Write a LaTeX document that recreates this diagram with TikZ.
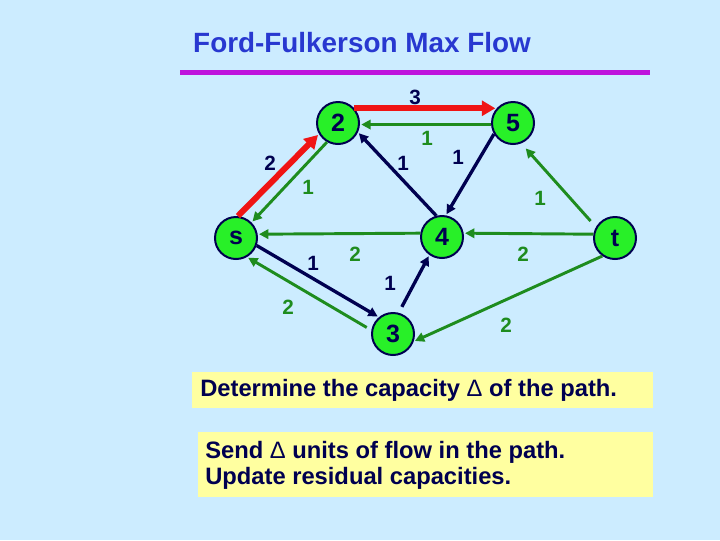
\documentclass[tikz,border=0pt]{standalone}
\usepackage{fontspec}
\setmainfont{Liberation Sans}
\usetikzlibrary{arrows.meta}
\definecolor{bg}{RGB}{204,236,255}
\definecolor{titleblue}{RGB}{40,56,208}
\definecolor{rulemag}{RGB}{190,20,220}
\definecolor{nodegreen}{RGB}{40,240,40}
\definecolor{navy}{RGB}{0,0,80}
\definecolor{egreen}{RGB}{30,140,30}
\definecolor{ered}{RGB}{240,20,20}
\definecolor{boxyellow}{RGB}{255,255,160}
\tikzset{
  vert/.style={circle, fill=nodegreen, draw=navy, line width=1.5pt, minimum size=31.5pt, inner sep=0pt,
    font=\fontsize{18.75}{20}\selectfont\bfseries, text=navy},
  redarc/.style={draw=ered, line width=4.5pt, -{Triangle[length=10pt,width=11pt]}, shorten >=1pt},
  greenarc/.style={draw=egreen, line width=2.2pt, -{Triangle[length=7pt,width=7pt]}, shorten >=1pt},
  navyarc/.style={draw=navy, line width=2.5pt, -{Triangle[length=7pt,width=7pt]}, shorten >=1pt},
  glab/.style={font=\fontsize{15.5}{16}\selectfont\bfseries, text=egreen, inner sep=0pt},
  nlab/.style={font=\fontsize{15.5}{16}\selectfont\bfseries, text=navy, inner sep=0pt},
  boxtext/.style={font=\fontsize{17.8}{19.5}\selectfont\bfseries, text=navy, align=left, inner sep=0pt, anchor=west},
}
\begin{document}
\begin{tikzpicture}[x=0.75pt,y=-0.75pt]
\useasboundingbox (0,0) rectangle (720,540);
\fill[bg] (0,0) rectangle (720,540);
% title
\node[font=\fontsize{20.9}{23}\selectfont\bfseries, text=titleblue] (title) at (362,43) {Ford-Fulkerson Max Flow};
\draw[rulemag, line width=3.75pt] (180,72) -- (650,72);
% vertices
\node[vert] (s) at (236,238) {s};
\node[vert] (n2) at (338,123) {2};
\node[vert] (n5) at (513,123) {5};
\node[vert] (n4) at (442,237) {4};
\node[vert] (t) at (615,238) {t};
\node[vert] (n3) at (393,334) {3};
% arcs
\draw[redarc] (s.85) -- (n2.210);
\draw[redarc] (n2.42) -- (n5.138);
\draw[greenarc] (n2.240) -- (s.45);
\draw[greenarc] (n5.184) -- (n2.356);
\draw[navyarc] (n4.105) -- (n2.335);
\draw[navyarc] (n5.210) -- (n4.80);
\draw[greenarc, shorten <=6pt, shorten >=5pt] (t.150) -- (n5.-68);
\draw[greenarc] (n4.170) -- (s.10);
\draw[greenarc] (t.170) -- (n4.10);
\draw[navyarc] (s.-20) -- (n3.130);
\draw[greenarc, shorten <=4pt] (n3.170) -- (s.-60);
\draw[navyarc, shorten <=5pt] (n3.75) -- (n4.235);
\draw[greenarc] (t.235) -- (n3.-20);
% labels
\node[nlab] (l23) at (415,97) {3};
\node[glab] (l52) at (427,138) {1};
\node[nlab] (ls2) at (270,163) {2};
\node[glab] (l2s) at (308,187) {1};
\node[nlab] (l42) at (403,163) {1};
\node[nlab] (l54) at (458,157) {1};
\node[glab] (lt5) at (540,198) {1};
\node[glab] (l4s) at (355,254) {2};
\node[glab] (lt4) at (523,254) {2};
\node[nlab] (ls3) at (313,263) {1};
\node[glab] (l3s) at (288,307) {2};
\node[nlab] (l34) at (390,283) {1};
\node[glab] (lt3) at (506,325) {2};
% text boxes
\fill[boxyellow] (192,372) rectangle (653,408);
\fill[boxyellow] (198,432) rectangle (653,497);
\node[boxtext] (b1) at (200,390) {Determine the capacity {\mdseries Δ} of the path.};
\node[boxtext] (b2) at (205,465) {Send {\mdseries Δ} units of flow in the path.\\Update residual capacities.};
\end{tikzpicture}
\end{document}
